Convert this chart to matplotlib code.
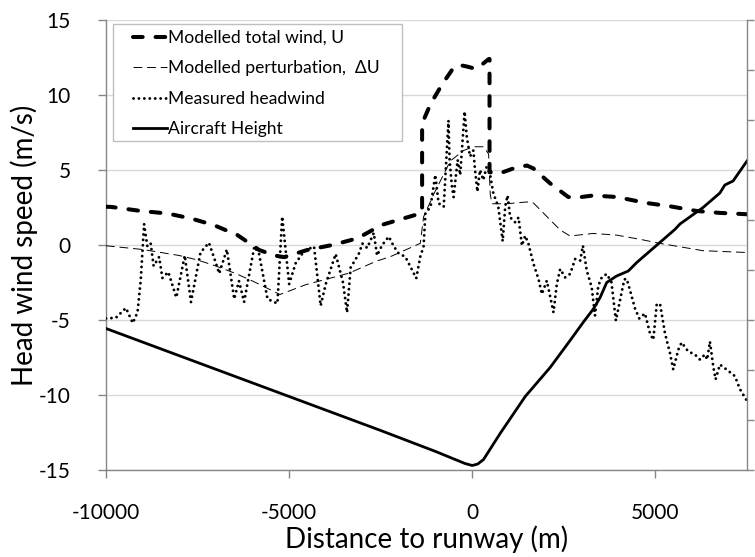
import matplotlib
matplotlib.use("Agg")
import matplotlib.pyplot as plt
from matplotlib.ticker import MultipleLocator, NullFormatter
from matplotlib.patches import Rectangle

plt.rcParams['font.family'] = ['Lato', 'DejaVu Sans']
plt.rcParams['axes.unicode_minus'] = False

# ---- data ----
u_x = [-10000, -9860, -9050, -8320, -7680, -7050, -6410, -5820, -5400, -5140, -4500, -3820,
       -3140, -2730, -2500, -1880, -1420, -1370, -1370, -1140, -826, -518, -350, -150, 82,
       300, 450, 471, 471, 763, 1117, 1490, 1670, 2130, 2310, 2620, 2850, 3300, 3940, 4490,
       4760, 5400, 6120, 6760, 7500]
u_y = [2.55, 2.54, 2.27, 2.1, 1.77, 1.32, 0.66, -0.33, -0.7, -0.81, -0.33, 0.0,
       0.44, 0.99, 1.32, 1.77, 2.1, 2.2, 8.1, 9.4, 10.7, 11.8, 12.0, 11.9, 11.75,
       12.1, 12.4, 12.4, 4.85, 4.79, 5.1, 5.3, 5.1, 4.1, 3.77, 3.2, 3.16, 3.3, 3.2, 2.93,
       2.8, 2.58, 2.27, 2.14, 2.05]

du_x = [-10000, -9000, -8000, -7500, -7000, -6460, -6000, -5500, -5250, -4550, -3370, -2640,
        -2230, -1420, -1330, -1050, -600, -240, 40, 310, 445, 490, 535, 945, 1490, 1670,
        2400, 2670, 3300, 3940, 4580, 5120, 6300, 7500]
du_y = [-0.05, -0.3, -0.7, -1.0, -1.4, -1.9, -2.4, -3.0, -3.3, -2.65, -1.88, -1.1,
        -0.77, 0.11, 1.87, 3.4, 5.6, 6.3, 6.55, 6.55, 6.07, 3.4, 2.75, 2.75, 2.87, 2.8,
        1.0, 0.6, 0.77, 0.66, 0.38, 0.11, -0.38, -0.5]

m_x = [-10000, -9730, -9455, -9270, -9140, -9050, -8960, -8870, -8780, -8700, -8550, -8460,
       -8300, -8080, -7850, -7680, -7420, -7190, -7000, -6910, -6700, -6500, -6370, -6230,
       -5950, -5820, -5590, -5320, -5190, -5000, -4820, -4590, -4320, -4140, -4000, -3730,
       -3530, -3420, -3320, -3100, -3000, -2870, -2690, -2600, -2460, -2280, -2140, -2010,
       -1830, -1690, -1530, -1420, -1330, -1280, -1140, -1010, -920, -780, -650, -620,
       -555, -510, -400, -330, -210, -150, -60, 30, 75, 140, 210, 300, 390, 480, 575, 710,
       830, 900, 963, 1035, 1172, 1263, 1354, 1445, 1535, 1672, 1808, 1900, 2035, 2217,
       2308, 2400, 2535, 2670, 2810, 2945, 3020, 3125, 3260, 3350, 3440, 3535, 3670, 3800,
       3920, 4150, 4215, 4306, 4442, 4560, 4715, 4850, 4942, 5033, 5124, 5260, 5396, 5487,
       5624, 5715, 5896, 6078, 6215, 6350, 6414, 6487, 6578, 6642, 6760, 6942, 7170, 7305,
       7500]
m_y = [-4.9, -4.85, -4.2, -5.2, -4.5, -2.3, 1.4, -0.1, 0.1, -1.4, -0.8, -2.2,
       -1.8, -3.5, -0.7, -3.8, -0.5, 0.15, -1.2, -1.9, -0.3, -3.6, -2.4, -3.8,
       -0.1, -0.6, -3.6, -3.9, 1.9, -2.6, -1.2, -0.4, -0.1, -4.05, -2.6, -0.6,
       -2.5, -4.5, -1.5, -0.6, 0.1, -0.2, 0.8, -0.7, 0.0, 0.56, -0.1, -0.56,
       -0.78, -1.44, -2.22, -0.78, -0.1, 2.1, 2.55, 4.67, 2.78, 2.55, 8.3, 5.67,
       3.9, 3.2, 5.67, 4.67, 8.9, 7.2, 5.9, 6.3, 5.0, 3.56, 5.0, 4.33, 5.2, 4.78, 3.44, 2.55,
       0.25, 2.6, 3.3, 1.84, 1.51, 1.84, -0.04, 0.62, 0.07, -1.27, -2.27, -3.27, -2.38, -4.49,
       -2.6, -1.6, -2.16, -1.93, -0.93, -1.04, -0.04, -1.71, -2.82, -4.71, -2.71, -2.16, -1.93, -2.49,
       -5.04, -2.3, -2.25, -3.02, -4.23, -4.9, -4.56, -5.88, -6.32, -4.0, -3.9, -5.88, -7.2, -8.3,
       -6.98, -6.5, -7.1, -7.3, -7.64, -7.3, -7.64, -6.43, -8.08, -8.96, -7.97, -8.3, -8.74, -9.6,
       -10.4]

h_x = [-10000, -7500, -5000, -2500, -1000, -500, -200, 0, 150, 307, 760, 1445,
       2125, 2670, 3035, 3305, 3490, 3670, 3940, 4260, 4490, 5120, 5530, 5670, 6300, 6760,
       6895, 7120, 7500]
h_y = [283, 215, 147, 79, 37, 22, 13, 9, 12, 21, 73, 147,
       205, 259, 296, 322, 345, 375, 388, 398, 415, 455, 481, 492, 525, 554,
       570, 578, 618]

labels = ["Modelled total wind, U", "Modelled perturbation,  \u0394U",
          "Measured headwind", "Aircraft Height"]

# ---- figure ----
fig = plt.figure(figsize=(7.55, 5.57), dpi=100)
ax = fig.add_axes([106/755, 87/557, 641/755, 450/557])
ax2 = ax.twinx()

gray = '#868686'
l1, = ax.plot(u_x, u_y, color='black', lw=2.9, linestyle=(0, (2.4, 3.2)),
              dash_capstyle='round', label=labels[0], zorder=3)
l2, = ax.plot(du_x, du_y, color='black', lw=0.7, linestyle=(0, (9, 5)),
              label=labels[1], zorder=3)
l3, = ax.plot(m_x, m_y, color='black', lw=2.1, linestyle=(0, (0.01, 1.85)),
              dash_capstyle='round', label=labels[2], zorder=3)
l4, = ax2.plot(h_x, h_y, color='black', lw=2.0, label=labels[3])

ax.set_xlim(-10000, 7500)
ax.set_ylim(-15, 15)
ax.set_xticks([-10000, -5000, 0, 5000])
ax.yaxis.set_major_locator(MultipleLocator(5))
ax.grid(axis='y', color='#d9d9d9', lw=1)
ax.set_axisbelow(True)

ax2.set_ylim(0, 900)
ax2.yaxis.set_major_locator(MultipleLocator(100))
ax2.yaxis.set_major_formatter(NullFormatter())

for a in (ax, ax2):
    a.spines['top'].set_visible(False)
    for s in ('left', 'bottom', 'right'):
        a.spines[s].set_color(gray)
        a.spines[s].set_linewidth(1)
ax.spines['right'].set_visible(False)
ax2.spines['left'].set_visible(False)
ax2.spines['bottom'].set_visible(False)

ax.tick_params(axis='both', colors=gray, labelcolor='black', labelsize=15, length=5.5, width=1)
ax.tick_params(axis='x', pad=18)
ax.tick_params(axis='y', pad=20)
ax2.tick_params(axis='y', colors=gray, length=5, width=1)

ax.set_xlabel("Distance to runway (m)", fontsize=20)
ax.xaxis.set_label_coords(0.5, -0.122)
ax.xaxis.label.set_va('top')
ax.set_ylabel("Head wind speed (m/s)", fontsize=20)
ax.yaxis.set_label_coords(-0.106, 0.5)

# legend frame and entries
ax2.add_patch(Rectangle((7/641, 1 - 121/450), 289/641, 117/450, transform=ax.transAxes,
                        facecolor='white', edgecolor='#bfbfbf', lw=1, zorder=9))
leg = ax2.legend(handles=[l1, l2, l3, l4], loc='upper left', bbox_to_anchor=(27/641, 1 - 10/450),
                 borderaxespad=0, borderpad=0, fontsize=12.6, handlelength=1.95,
                 handletextpad=0.05, labelspacing=0.82, frameon=False)
leg.set_zorder(10)

fig.savefig("out.png", dpi=100)
